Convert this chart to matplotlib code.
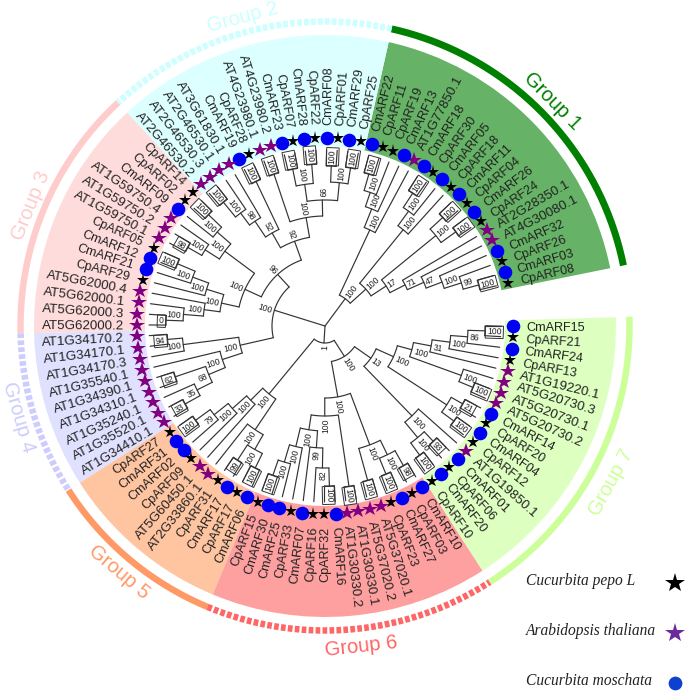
import re
import numpy as np
import matplotlib
matplotlib.use("Agg")
import matplotlib.pyplot as plt
from matplotlib.patches import Wedge

plt.rcParams['font.family'] = ['Liberation Sans', 'DejaVu Sans']

group_names = ["Group 1", "Group 2", "Group 3", "Group 4", "Group 5", "Group 6", "Group 7"]

group1 = ["CpARF08", "CmARF03", "CpARF26", "CmARF32", "AT4G30080.1", "AT2G28350.1", "CpARF24", "CmARF26",
          "CpARF04", "CmARF11", "CpARF18", "CmARF05", "CpARF30", "CmARF18", "AT1G77850.1", "CmARF13",
          "CpARF19", "CpARF11", "CmARF22"]
group2 = ["CpARF25", "CmARF29", "CpARF01", "CmARF08", "CpARF22", "CmARF28", "CpARF07", "CmARF23",
          "AT4G23980.2", "AT4G23980.1", "CpARF28", "CmARF19", "AT3G61830.1", "AT2G46530.1", "AT2G46530.3",
          "AT2G46530.2"]
group3 = ["CpARF14", "CpARF02", "CmARF09", "AT1G59750.4", "AT1G59750.2", "AT1G59750.1", "CpARF05", "CmARF12",
          "CmARF21", "CpARF29", "AT5G62000.4", "AT5G62000.1", "AT5G62000.3", "AT5G62000.2"]
group4 = ["AT1G34170.2", "AT1G34170.1", "AT1G34170.3", "AT1G35540.1", "AT1G34390.1", "AT1G34310.1",
          "AT1G35240.1", "AT1G35520.1", "AT1G34410.1"]
group5 = ["CpARF27", "CmARF31", "CmARF02", "CpARF09", "AT5G60450.1", "AT2G33860.1", "CpARF31", "CmARF17",
          "CpARF17", "CmARF06"]
group6 = ["CpARF15", "CmARF30", "CmARF25", "CpARF33", "CmARF07", "CpARF16", "CpARF32", "CmARF16",
          "AT1G30330.2", "AT1G30330.1", "AT5G37020.2", "AT5G37020.1", "CpARF23", "CmARF27", "CpARF03", "CmARF10"]
group7 = ["CpARF10", "CmARF20", "CpARF06", "CmARF01", "AT1G19850.1", "CpARF12", "CmARF04", "CpARF20", "CmARF14",
          "AT5G20730.2", "AT5G20730.1", "AT5G20730.3", "AT1G19220.1", "CpARF13", "CmARF24", "CpARF21", "CmARF15"]
groups = [group1, group2, group3, group4, group5, group6, group7]

# Clades in Newick form: leaf = index in the leaf order, (children)support:depth
clade_g1 = ("((((((((0,1)100:159,2)99:143,3)100:125,4)47:108,5)71:90,((6,7)100:161,(8,9)100:160)100:143)17:73,"
            "(10,(11,(12,13)100:159)100:142)100:124)100:55,"
            "(14,(15,(16,(17,18)100:158)100:141)100:126)100:106)100:34")
clade_g2 = ("(((((19,20)100:160,(21,22)100:160)100:144,((23,24)100:162,(25,26)100:160)100:143)99:126,"
            "(27,28)100:160)100:110,((29,30)100:160,(31,(32,(33,34)100:160)100:141)98:126)52:107)92:90")
clade_g3 = ("((((35,36)100:161,37)100:143,(38,(39,40)98:158)100:142)100:125,"
            "((((41,42)100:160,43)100:141,44)100:124,(45,(46,(47,48)0:159)100:142)100:122)100:106)100:88")
clade_g4 = ("(((49,50)94:158,51)100:143,(52,((53,54)62:158,(55,(56,57)33:160)35:143)68:126)100:108)100:87")
clade_g5 = ("(((((58,59)100:160,60)79:142,61)100:124,62)100:105,"
            "(63,((64,65)99:160,(66,67)100:158)100:142)100:125)100:88")
clade_g6 = ("((((((68,69)100:158,70)100:142,71)100:124,(72,(73,(74,75)100:160)82:142)99:122)100:105,"
            "(76,77)100:162)100:90,((78,79)100:160,((80,81)100:160,(82,83)98:160)100:143)100:127)100:72")
clade_g7 = ("((((84,85)100:160,(86,87)93:158)100:145,88)100:125,"
            "(((89,90)100:160,(91,92)21:158)100:145,(((93,94)100:160,95)100:145,"
            "(96,(97,(98,(99,100)100:160)86:143)100:126)31:108)100:90)100:75)13:56")

tree_newick = (f"({clade_g1},(({clade_g2},{clade_g3})96:70,{clade_g4})100:53,"
               f"({clade_g5},({clade_g6},{clade_g7})100:36)1:17)")

legend_names = ["Cucurbita pepo L", "Arabidopsis thaliana", "Cucurbita moschata"]

wedge_colors = ["#66B266", "#DCFFFF", "#FFDCDC", "#E0E0FF", "#FFC4A0", "#FFA0A0", "#DDFFC0"]
ring_colors = ["#008000", "#CCFFFF", "#FFCCCC", "#CCCCFF", "#FF9966", "#FF6666", "#CCFF99"]
ring_dashed = [False, True, False, True, False, True, False]
label_pos = [(320, 44.7, -45.3), (319, 105, 15), (318, 157.8, 67.8), (320, 196.5, -73.5),
             (321, 230, -40), (323, 276.4, 6.4), (326, -28.7, 61.3)]

# ---------- geometry
W, H = 685, 691
CX, CY = 325, 326
START, STEP = 13.2, 3.468
R_TIP, R_MARK, R_LABEL, R_IN, R_OUT, R_RING = 176, 188, 201, 180, 291, 304.5
PX = 72 / 100
LINE = "#333333"
TEXT = "#222222"

fig = plt.figure(figsize=(W / 100, H / 100), dpi=100)
ax = fig.add_axes([0, 0, 1, 1])
ax.set_xlim(-CX, W - CX)
ax.set_ylim(-(H - CY), CY)
ax.axis("off")

leaves = [n for g in groups for n in g]
theta = START + STEP * np.arange(len(leaves))


def pol(r, a):
    return r * np.cos(np.radians(a)), r * np.sin(np.radians(a))


def radial_rot(a):
    a = a % 360
    return (a, "left") if (a < 90 or a > 270) else (a - 180, "right")


# ---------- sectors and outer rings
first = 0
for k, g in enumerate(groups):
    a0 = theta[first] - STEP / 2
    a1 = theta[first + len(g) - 1] + STEP / 2
    ax.add_patch(Wedge((0, 0), R_OUT, a0, a1, width=R_OUT - R_IN, fc=wedge_colors[k], ec="none", zorder=1))
    t = np.linspace(a0, a1, 200)
    x, y = pol(R_RING, t)
    lw = (7 if k == 0 else 6.5) * PX
    if ring_dashed[k]:
        ax.plot(x, y, color=ring_colors[k], lw=lw, linestyle=(0, (0.72, 0.35)), dash_capstyle="butt", zorder=2)
    else:
        ax.plot(x, y, color=ring_colors[k], lw=lw, solid_capstyle="butt", zorder=2)
    r, a, rot = label_pos[k]
    lx, ly = pol(r, a)
    ax.text(lx, ly, group_names[k], color=ring_colors[k], fontsize=14.5, rotation=rot,
            ha="center", va="center", rotation_mode="anchor", zorder=3)
    first += len(g)


# ---------- tree
def parse(s):
    pos = [0]

    def node():
        if s[pos[0]] == "(":
            pos[0] += 1
            kids = [node()]
            while s[pos[0]] == ",":
                pos[0] += 1
                kids.append(node())
            pos[0] += 1
            m = re.match(r"(\d+):(\d+)", s[pos[0]:])
            if m:
                pos[0] += m.end()
                return {"kids": kids, "sup": m.group(1), "r": float(m.group(2))}
            return {"kids": kids, "sup": None, "r": 0.0}
        m = re.match(r"\d+", s[pos[0]:])
        pos[0] += m.end()
        return {"leaf": int(m.group(0)), "r": float(R_TIP)}

    return node()


def layout(n):
    if "leaf" in n:
        n["a"] = theta[n["leaf"]]
    else:
        angs = [layout(c) for c in n["kids"]]
        n["a"] = (min(angs) + max(angs)) / 2
    return n["a"]


def draw(n):
    if "leaf" in n:
        return
    angs = [c["a"] for c in n["kids"]]
    t = np.linspace(min(angs), max(angs), 60)
    x, y = pol(n["r"], t)
    ax.plot(x, y, color=LINE, lw=0.85, zorder=4, solid_capstyle="round")
    for c in n["kids"]:
        x0, y0 = pol(n["r"], c["a"])
        x1, y1 = pol(c["r"], c["a"])
        ax.plot([x0, x1], [y0, y1], color=LINE, lw=0.85, zorder=4, solid_capstyle="round")
        draw(c)
    if n["sup"] is not None:
        rot, ha = radial_rot(n["a"])
        tx, ty = pol(n["r"] + 2.2, n["a"])
        cherry = all("leaf" in c for c in n["kids"])
        box = dict(boxstyle="square,pad=0.2", fc="none", ec=LINE, lw=0.7) if cherry else None
        ax.text(tx, ty, n["sup"], fontsize=6.2, color=TEXT, rotation=rot, ha=ha, va="center_baseline",
                rotation_mode="anchor", bbox=box, zorder=5)


root = parse(tree_newick)
layout(root)
draw(root)

# ---------- leaves: labels and species markers
marker_style = {"Cp": ("*", "black", 9.6), "AT": ("*", "#800080", 11.5), "Cm": ("o", "#0000F5", 9.8)}
for name, a in zip(leaves, theta):
    rot, ha = radial_rot(a)
    lx, ly = pol(R_LABEL, a)
    ax.text(lx, ly, name, fontsize=9.6 if name.startswith("AT") else 9.1, color=TEXT, rotation=rot, ha=ha,
            va="center_baseline", rotation_mode="anchor", zorder=6)
    mx, my = pol(R_MARK, a)
    m, c, s = marker_style[name[:2]]
    ax.plot([mx], [my], marker=m, color=c, ms=s, mew=0, linestyle="none", zorder=7)

# ---------- legend
legend_marks = [("*", "black", 15), ("*", "#6A2C9A", 15), ("o", "#1040D0", 9.9)]
for i, (name, (m, c, s)) in enumerate(zip(legend_names, legend_marks)):
    py = CY - (581 + 50 * i)
    ax.text(526 - CX, py, name, family=["Liberation Serif"], style="italic", fontsize=11.2, color=TEXT,
            ha="left", va="center")
    ax.plot([675 - CX], [py - 1.5], marker=m, color=c, ms=s, mew=0, linestyle="none", clip_on=False, zorder=7)

fig.savefig("out.png", dpi=100)
